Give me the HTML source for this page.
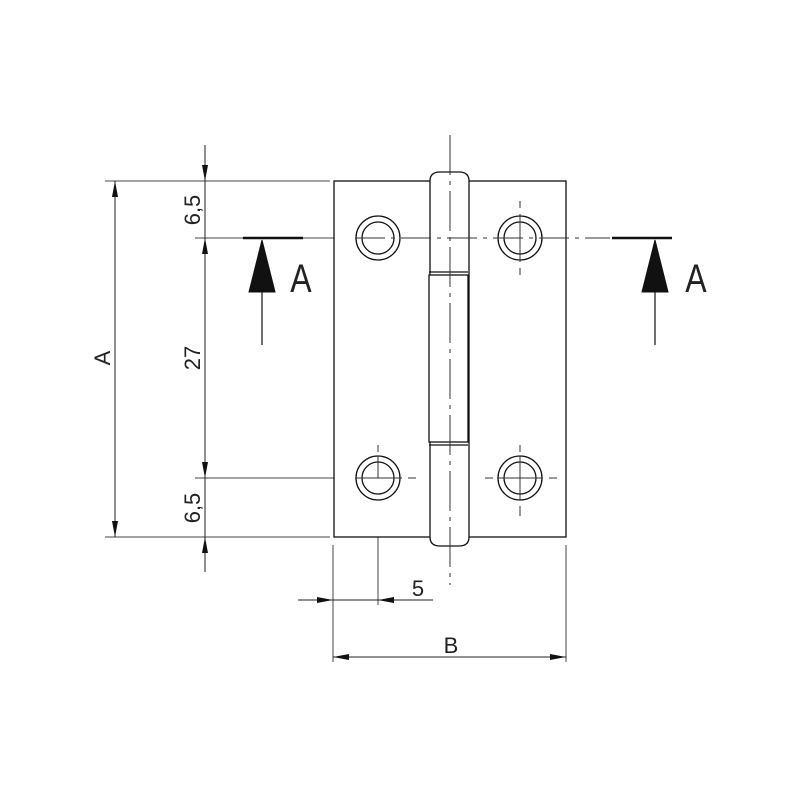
<!DOCTYPE html>
<html><head><style>body{margin:0;background:#fff}svg{display:block}</style></head><body>
<svg width="800" height="800" viewBox="0 0 800 800" xmlns="http://www.w3.org/2000/svg" font-family="Liberation Sans, sans-serif">
<defs>
<marker id="ar" viewBox="0 0 16 6" refX="16" refY="3" markerWidth="16" markerHeight="6" markerUnits="userSpaceOnUse" orient="auto-start-reverse"><path d="M0,0 L16,3 L0,6 Z" fill="#111"/></marker>
</defs>
<g stroke="#444" stroke-width="1" fill="none">
<line x1="105" y1="181" x2="330" y2="181"/>
<line x1="105" y1="537" x2="330" y2="537"/>
<line x1="195" y1="238" x2="355" y2="238"/>
<line x1="195" y1="478" x2="355" y2="478"/>
<line x1="333" y1="545" x2="333" y2="662"/>
<line x1="566" y1="545" x2="566" y2="662"/>
<line x1="378" y1="478" x2="378" y2="605"/>
</g>
<g stroke="#222" stroke-width="1" fill="none">
<line x1="115" y1="181" x2="115" y2="537" marker-start="url(#ar)" marker-end="url(#ar)"/>
<line x1="205" y1="145" x2="205" y2="181" marker-end="url(#ar)"/>
<line x1="205" y1="181" x2="205" y2="238"/>
<line x1="205" y1="238" x2="205" y2="478" marker-start="url(#ar)" marker-end="url(#ar)"/>
<line x1="205" y1="478" x2="205" y2="537"/>
<line x1="205" y1="572" x2="205" y2="537" marker-end="url(#ar)"/>
<line x1="298" y1="600" x2="333" y2="600" marker-end="url(#ar)"/>
<line x1="433" y1="600" x2="378" y2="600" marker-end="url(#ar)"/>
<line x1="333" y1="600" x2="378" y2="600"/>
<line x1="333" y1="657" x2="566" y2="657" marker-start="url(#ar)" marker-end="url(#ar)"/>
</g>
<g stroke="#111" stroke-width="1.3" fill="#fff">
<rect x="334" y="181" width="232" height="356"/>
<path d="M430,537 L430,181 Q430,172 440,172 L459,172 Q469,172 469,181 L469,537 Q469,546 459,546 L440,546 Q430,546 430,537 Z"/>
<rect x="429" y="275" width="39" height="167"/>
<line x1="429" y1="272" x2="468" y2="272"/>
<line x1="429" y1="445" x2="468" y2="445"/>
<circle cx="378" cy="238" r="22"/><circle cx="378" cy="238" r="16"/>
<circle cx="520" cy="238" r="22"/><circle cx="520" cy="238" r="16"/>
<circle cx="378" cy="478" r="22"/><circle cx="378" cy="478" r="16"/>
<circle cx="520" cy="478" r="22"/><circle cx="520" cy="478" r="16"/>
</g>
<g stroke="#333" stroke-width="1" fill="none">
<line x1="450" y1="135" x2="450" y2="585" stroke-dasharray="40,6,4,6"/>
<line x1="355" y1="238" x2="610" y2="238" stroke-dasharray="30,6,4,6"/>
<line x1="355" y1="478" x2="402" y2="478"/>
<line x1="408" y1="478" x2="416" y2="478"/>
<line x1="485" y1="478" x2="493" y2="478"/>
<line x1="497" y1="478" x2="543" y2="478"/>
<line x1="549" y1="478" x2="557" y2="478"/>
<line x1="378" y1="445" x2="378" y2="452"/>
<line x1="378" y1="456" x2="378" y2="478"/>
<line x1="520" y1="201" x2="520" y2="208"/>
<line x1="520" y1="214" x2="520" y2="262"/>
<line x1="520" y1="268" x2="520" y2="275"/>
<line x1="520" y1="445" x2="520" y2="452"/>
<line x1="520" y1="456" x2="520" y2="500"/>
<line x1="520" y1="506" x2="520" y2="516"/>
</g>
<g stroke="#111" fill="#111">
<line x1="243" y1="238" x2="303" y2="238" stroke-width="2.5"/>
<line x1="262" y1="292" x2="262" y2="345" stroke-width="1.2"/>
<path d="M262,240 L249,292 L275,292 Z"/>
<line x1="612" y1="238" x2="672" y2="238" stroke-width="2.5"/>
<line x1="655" y1="292" x2="655" y2="345" stroke-width="1.2"/>
<path d="M655,240 L642,292 L668,292 Z"/>
</g>
<g fill="#222" font-size="22">
<text x="301" y="292" text-anchor="middle" font-size="40" transform="translate(301,292) scale(0.8,1) translate(-301,-292)">A</text>
<text x="696" y="292" text-anchor="middle" font-size="40" transform="translate(696,292) scale(0.8,1) translate(-696,-292)">A</text>
<text x="451" y="653" text-anchor="middle">B</text>
<text x="418" y="596" text-anchor="middle">5</text>
<text transform="translate(110,358) rotate(-90)" text-anchor="middle">A</text>
<text transform="translate(200,210) rotate(-90)" text-anchor="middle">6,5</text>
<text transform="translate(200,358) rotate(-90)" text-anchor="middle">27</text>
<text transform="translate(200,508) rotate(-90)" text-anchor="middle">6,5</text>
</g>
</svg>
</body></html>
